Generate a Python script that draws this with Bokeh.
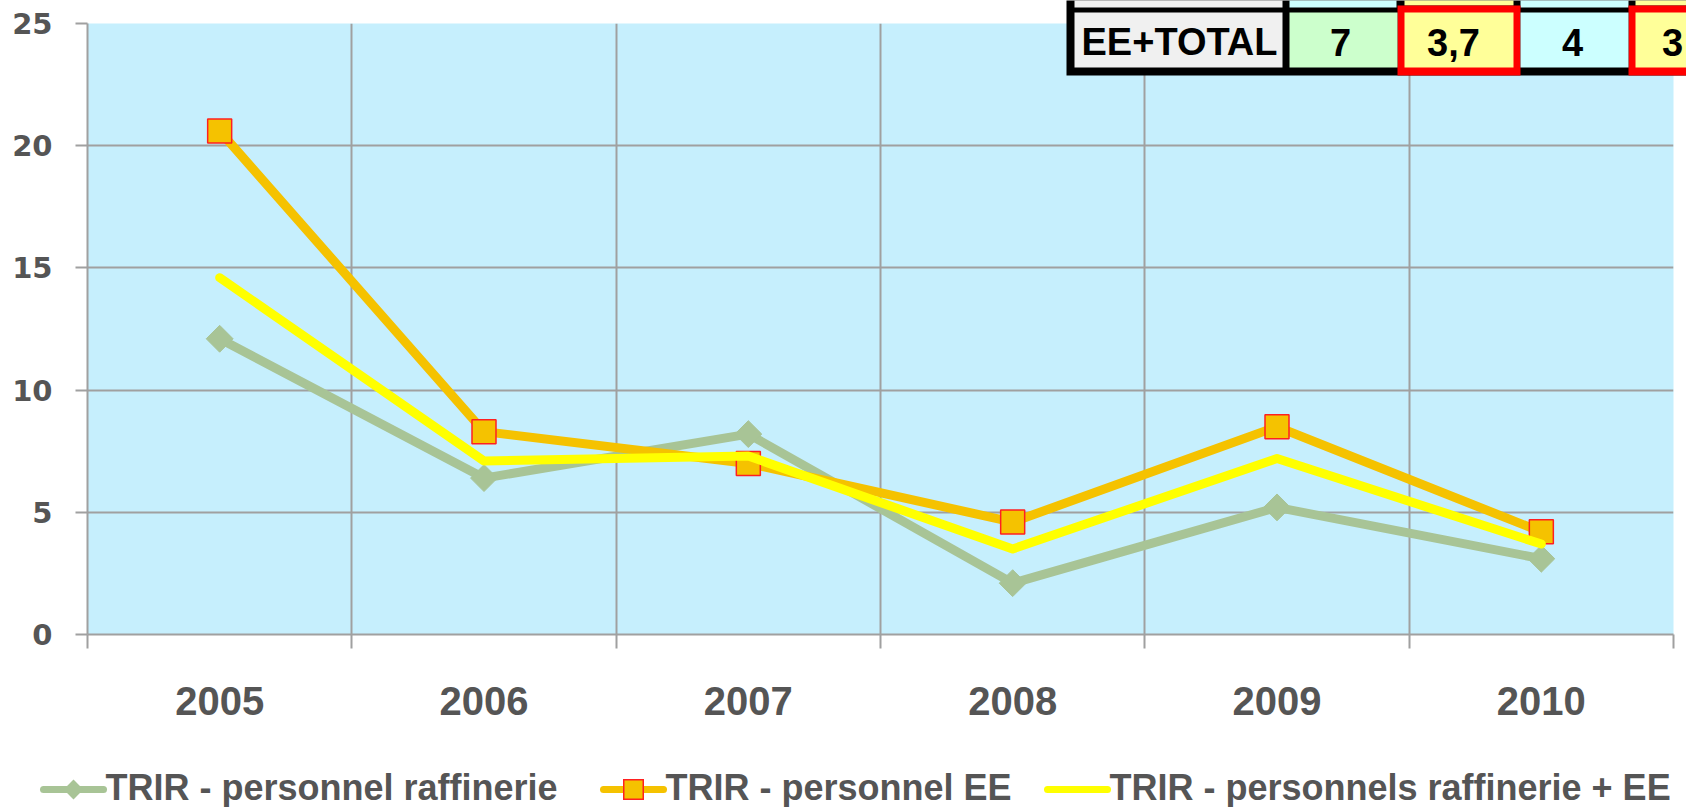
from bokeh.plotting import figure
from bokeh.models import Range1d, FixedTicker
from bokeh.core.properties import value
from bokeh.embed import file_html
from bokeh.resources import INLINE
import math

# ---------------- data ----------------
years = [2005, 2006, 2007, 2008, 2009, 2010]
year_labels = ["2005", "2006", "2007", "2008", "2009", "2010"]
trir_raffinerie = [12.1, 6.4, 8.2, 2.1, 5.2, 3.1]
trir_ee = [20.6, 8.3, 7.0, 4.6, 8.5, 4.2]
trir_total = [14.6, 7.1, 7.3, 3.5, 7.2, 3.7]
series_names = ["TRIR - personnel raffinerie",
                "TRIR - personnel EE",
                "TRIR - personnels raffinerie + EE"]
y_ticks = [0, 5, 10, 15, 20, 25]

table_row_label = "EE+TOTAL"
table_values = ["7", "3,7", "4", "3"]
table_fills = ["#CCFFCC", "#FFFF99", "#CCFFFF", "#FFFF99"]
table_highlight = [False, True, False, True]

# ---------------- layout constants (pixels) ----------------
W, H = 1686, 807
F_LEFT, F_RIGHT, F_TOP, F_BOTTOM = 87, 1673, 23, 634

GREEN = "#A8C496"
ORANGE = "#F5C200"
YELLOW = "#FFFF00"
RED_EDGE = "#FF2020"
GRID = "#A0A0A0"
TEXT = "#555555"
BG = "#C6EFFD"
FONT = "Liberation Sans"
LW = 9

p = figure(width=W, height=H,
           x_range=Range1d(years[0] - 0.5, years[-1] + 0.5),
           y_range=Range1d(y_ticks[0], y_ticks[-1]),
           output_backend="svg", toolbar_location=None,
           min_border_left=F_LEFT, min_border_right=W - F_RIGHT,
           min_border_top=F_TOP, min_border_bottom=H - F_BOTTOM,
           background_fill_color=BG, border_fill_color="white",
           outline_line_color=None)

# pixel-space ranges for decorations (table, legend)
p.extra_x_ranges = {"px": Range1d(F_LEFT, F_RIGHT)}
p.extra_y_ranges = {"px": Range1d(F_BOTTOM, F_TOP)}
kw = dict(x_range_name="px", y_range_name="px", level="overlay")

# ---------------- axes ----------------
boundaries = [y - 0.5 for y in years] + [years[-1] + 0.5]
xticker = FixedTicker(ticks=years, minor_ticks=boundaries)
p.xaxis.ticker = xticker
p.xgrid.ticker = xticker
p.xaxis.major_label_overrides = {y: l for y, l in zip(years, year_labels)}
p.xaxis.major_tick_line_color = None
p.xaxis.major_tick_out = 0
p.xaxis.major_tick_in = 0
p.xaxis.minor_tick_line_color = GRID
p.xaxis.minor_tick_line_width = 2
p.xaxis.minor_tick_out = 14
p.xaxis.minor_tick_in = 0
p.xaxis.axis_line_color = GRID
p.xaxis.axis_line_width = 2
p.xaxis.major_label_text_font = FONT
p.xaxis.major_label_text_font_style = "bold"
p.xaxis.major_label_text_font_size = "40px"
p.xaxis.major_label_text_color = TEXT
p.xaxis.major_label_standoff = 38

p.xgrid.grid_line_color = None
p.xgrid.minor_grid_line_color = GRID
p.xgrid.minor_grid_line_width = 2

yticker = FixedTicker(ticks=y_ticks)
p.yaxis.ticker = yticker
p.ygrid.ticker = yticker
p.yaxis.major_tick_line_color = GRID
p.yaxis.major_tick_line_width = 2
p.yaxis.major_tick_out = 12
p.yaxis.major_tick_in = 0
p.yaxis.minor_tick_line_color = None
p.yaxis.axis_line_color = GRID
p.yaxis.axis_line_width = 2
p.yaxis.major_label_text_font = "DejaVu Sans"
p.yaxis.major_label_text_font_style = "bold"
p.yaxis.major_label_text_font_size = "29px"
p.yaxis.major_label_text_color = TEXT
p.yaxis.major_label_standoff = 23
p.ygrid.grid_line_color = GRID
p.ygrid.grid_line_width = 2

# ---------------- series ----------------
p.line(years, trir_raffinerie, line_color=GREEN, line_width=LW,
       line_join="round", line_cap="round")
p.scatter(years, trir_raffinerie, marker="square", size=19,
          angle=math.pi / 4, fill_color=GREEN, line_color=GREEN)
p.line(years, trir_ee, line_color=ORANGE, line_width=LW,
       line_join="round", line_cap="round")
p.scatter(years, trir_ee, marker="square", size=24,
          fill_color=ORANGE, line_color=RED_EDGE, line_width=1.5)
p.line(years, trir_total, line_color=YELLOW, line_width=LW,
       line_join="round", line_cap="round")

# ---------------- legend (bottom row) ----------------
leg_x = [43, 603, 1047]
leg_colors = [GREEN, ORANGE, YELLOW]
LEG_Y = 789
GLYPH_W = 60
p.segment(x0=leg_x, x1=[x + GLYPH_W for x in leg_x], y0=[LEG_Y] * 3, y1=[LEG_Y] * 3,
          line_color=leg_colors, line_width=7, line_cap="round", **kw)
# green diamond key (square side 14 turned 45 degrees)
gx = leg_x[0] + GLYPH_W / 2
d = 14 / (2 * math.sqrt(2))
p.segment(x0=[gx - d], y0=[LEG_Y - d], x1=[gx + d], y1=[LEG_Y + d],
          line_color=GREEN, line_width=14, line_cap="butt", **kw)
# orange square key with red edge
ox = leg_x[1] + GLYPH_W / 2
p.segment(x0=[ox - 10.5], y0=[LEG_Y], x1=[ox + 10.5], y1=[LEG_Y],
          line_color=RED_EDGE, line_width=21, line_cap="butt", **kw)
p.segment(x0=[ox - 9], y0=[LEG_Y], x1=[ox + 9], y1=[LEG_Y],
          line_color=ORANGE, line_width=18, line_cap="butt", **kw)
p.text(x=[x + GLYPH_W + 2 for x in leg_x], y=[786.5] * 3, text=series_names,
       text_font=value(FONT), text_font_style="bold", text_font_size="36px",
       text_color=TEXT, text_align="left", text_baseline="middle", **kw)

# ---------------- table (top right) ----------------
p.quad(left=[1066], right=[1760], top=[0], bottom=[75],
       fill_color="black", line_color=None, **kw)
top_l = [1074, 1289, 1404, 1520, 1635]
top_r = [1282, 1396, 1513, 1628, 1744]
top_b = [7, 7, 5, 7, 5]
top_fill = ["#F0F0F0", "#CCFFFF", "#FFFF99", "#CCFFFF", "#FFFF99"]
p.quad(left=top_l, right=top_r, top=[0] * 5, bottom=top_b,
       fill_color=top_fill, line_color=None, **kw)
col_left = [1289, 1397, 1520, 1628]
col_right = [1397, 1520, 1628, 1751]
red_l = [col_left[i] for i in range(len(table_values)) if table_highlight[i]]
red_r = [col_right[i] for i in range(len(table_values)) if table_highlight[i]]
p.quad(left=red_l, right=red_r, top=[5] * len(red_l), bottom=[75] * len(red_l),
       fill_color="#FF0000", line_color=None, **kw)
cell_l = [1074] + [col_left[i] + (7 if table_highlight[i] else 0) for i in range(4)]
cell_r = [1282] + [col_right[i] - (7 if table_highlight[i] else 0) for i in range(4)]
cell_fill = ["#F0F0F0"] + table_fills
p.quad(left=cell_l, right=cell_r, top=[12] * 5, bottom=[67] * 5,
       fill_color=cell_fill, line_color=None, **kw)

p.text(x=[1179], y=[41.5], text=[table_row_label],
       text_font=value(FONT), text_font_style="bold", text_font_size="38px",
       text_color="black", text_align="center", text_baseline="middle", **kw)
text_x = [1340, 1453, 1572, 1672]
p.text(x=text_x, y=[41.5] * len(table_values), text=table_values,
       text_font=value("Liberation Sans Narrow, Liberation Sans"),
       text_font_style="bold", text_font_size="38px",
       text_color="black", text_align="center", text_baseline="middle", **kw)

open("out.html", "w").write(file_html(p, INLINE))
